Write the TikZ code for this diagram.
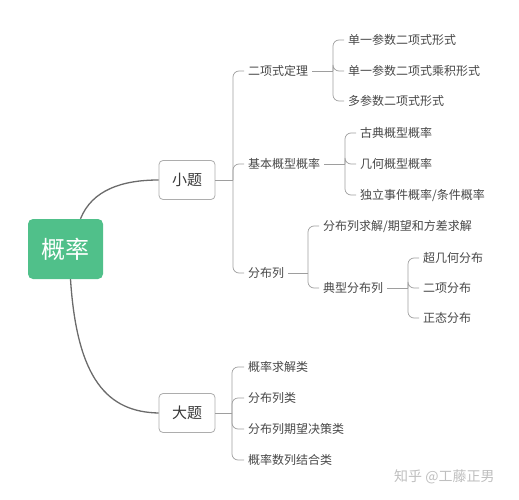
\documentclass[tikz,border=0pt]{standalone}
\usepackage{fontspec}
\setmainfont{Noto Sans CJK SC}
\begin{document}
\begin{tikzpicture}[x=1pt,y=-1pt,
  txt/.style={anchor=west,inner xsep=4pt,inner ysep=1pt,font=\fontsize{12}{14}\selectfont,text=black!72},
  br/.style={draw=black!38,line width=0.7pt,rounded corners=6pt},
  pl/.style={draw=black!38,line width=0.7pt},
  trunk/.style={draw=black!58,line width=1.3pt},
  mid/.style={draw=black!32,line width=0.8pt,fill=white,rounded corners=4pt,minimum width=56pt,minimum height=39pt,font=\fontsize{15}{17}\selectfont,text=black!78}]
\useasboundingbox (0,0) rectangle (519,500);
% root
\node[fill={rgb,255:red,80;green,192;blue,138},rounded corners=5pt,minimum width=75pt,minimum height=60pt,text=white,font=\fontsize{24}{28}\selectfont] (root) at (65.5,249) {概率};
\node[mid] (xt) at (187,180) {小题};
\node[mid] (dt) at (187,413) {大题};
\draw[trunk] ([xshift=15pt]root.north) .. controls (92,190) and (122,180) .. (xt.west);
\draw[trunk] ([xshift=5pt]root.south) .. controls (77,380) and (108,412) .. (dt.west);
% level 2 (small)
\node[txt] (a1) at (244,71) {二项式定理};
\node[txt] (a2) at (244,164) {基本概型概率};
\node[txt] (a3) at (244,273) {分布列};
\coordinate (ba) at (233,180);
\draw[pl] (xt.east) -- (ba);
\foreach \c in {a1,a2,a3} \draw[br] (ba) |- (\c.west);
% 二项式定理 children
\node[txt] (b1) at (344,40) {单一参数二项式形式};
\node[txt] (b2) at (344,71) {单一参数二项式乘积形式};
\node[txt] (b3) at (344,101) {多参数二项式形式};
\coordinate (bb) at (333,71);
\draw[pl] (a1.east) -- (bb);
\foreach \c in {b1,b2,b3} \draw[br] (bb) |- (\c.west);
% 基本概型概率 children
\node[txt] (c1) at (356,133) {古典概型概率};
\node[txt] (c2) at (356,164) {几何概型概率};
\node[txt] (c3) at (356,195) {独立事件概率/条件概率};
\coordinate (bc) at (345,164);
\draw[pl] (a2.east) -- (bc);
\foreach \c in {c1,c2,c3} \draw[br] (bc) |- (\c.west);
% 分布列 children
\node[txt] (d1) at (319,226) {分布列求解/期望和方差求解};
\node[txt] (d2) at (319,288) {典型分布列};
\coordinate (bd) at (308,273);
\draw[pl] (a3.east) -- (bd);
\foreach \c in {d1,d2} \draw[br] (bd) |- (\c.west);
% 典型分布列 children
\node[txt] (e1) at (419,258) {超几何分布};
\node[txt] (e2) at (419,288) {二项分布};
\node[txt] (e3) at (419,318) {正态分布};
\coordinate (be) at (408,288);
\draw[pl] (d2.east) -- (be);
\foreach \c in {e1,e2,e3} \draw[br] (be) |- (\c.west);
% 大题 children
\node[txt] (f1) at (244,367) {概率求解类};
\node[txt] (f2) at (244,398) {分布列类};
\node[txt] (f3) at (244,429) {分布列期望决策类};
\node[txt] (f4) at (244,460) {概率数列结合类};
\coordinate (bf) at (232,413);
\draw[pl] (dt.east) -- (bf);
\foreach \c in {f1,f2,f3,f4} \draw[br] (bf) |- (\c.west);
% watermark
\node[anchor=west,inner sep=0pt,text=black!25,font=\fontsize{14}{16}\selectfont] (wm) at (394,477) {知乎 @工藤正男};
\end{tikzpicture}
\end{document}
